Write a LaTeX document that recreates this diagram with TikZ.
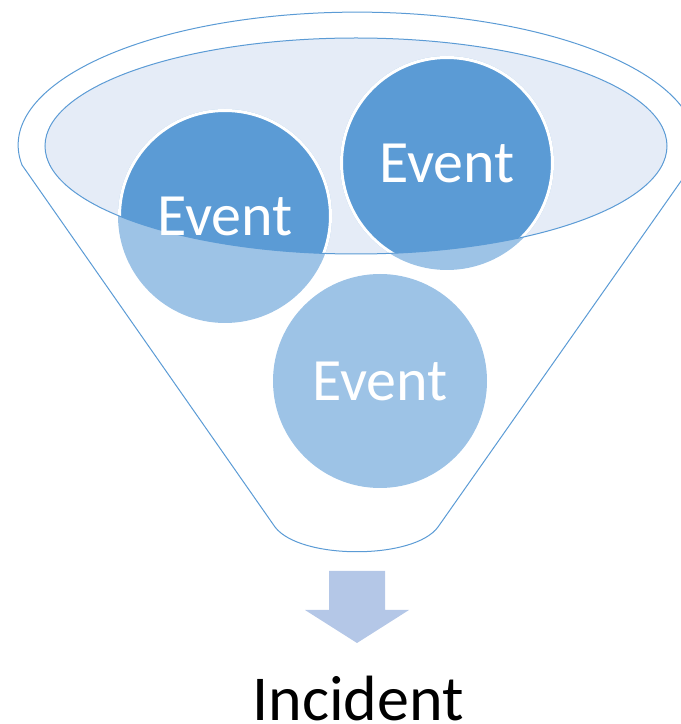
\documentclass[tikz,border=0pt]{standalone}
\usepackage{fontspec}
\setmainfont{Carlito}
\definecolor{accent}{HTML}{5B9BD5}
\definecolor{lightc}{HTML}{9DC3E6}
\definecolor{rimfill}{HTML}{E5ECF7}
\definecolor{arrowc}{HTML}{B4C7E7}
\tikzset{
  outline/.style={draw=accent, line width=1pt},
  evtxt/.style={text=white, inner sep=0pt, font=\fontsize{60}{72}\selectfont},
  bigtxt/.style={text=black, inner sep=0pt, anchor=base, font=\fontsize{64}{76}\selectfont},
}
\begin{document}
\begin{tikzpicture}[x=1pt,y=1pt]
\useasboundingbox (0,0) rectangle (681,724);
\clip (0,0) rectangle (681,724);
% funnel outline
\draw[outline] (22,559) coordinate (fl)
  arc[start angle=188.6, end angle=-8.6, x radius=339, y radius=133] coordinate (fr)
  -- (438,197) coordinate (br)
  .. controls (414,164) and (300,164) .. (275,197) coordinate (bl) -- cycle;
% rim fill
\fill[rimfill] (356,578) ellipse[x radius=311, y radius=108];
% circle centres
\coordinate (c1) at (225,508);
\coordinate (c2) at (447,561);
\coordinate (c3) at (380,343);
% light parts
\foreach \c in {c1,c2,c3} \fill[lightc] (\c) circle[radius=107];
% dark parts inside the rim
\begin{scope}
  \clip (356,578) ellipse[x radius=311, y radius=108];
  \foreach \c in {c1,c2,c3}
    \draw[white, line width=3pt, fill=accent] (\c) circle[radius=105.5];
\end{scope}
% rim stroke
\draw[outline] (356,578) ellipse[x radius=311, y radius=108];
% texts
\node[evtxt] (t1) at (c1) {Event};
\node[evtxt] (t2) at (c2) {Event};
\node[evtxt] (t3) at (c3) {Event};
% arrow
\fill[arrowc] (329,153) -- (385,153) -- (385,114) -- (409,114) -- (357,81)
  -- (305,114) -- (329,114) -- cycle;
\node[bigtxt] (inc) at (358,4) {Incident};
\end{tikzpicture}
\end{document}
